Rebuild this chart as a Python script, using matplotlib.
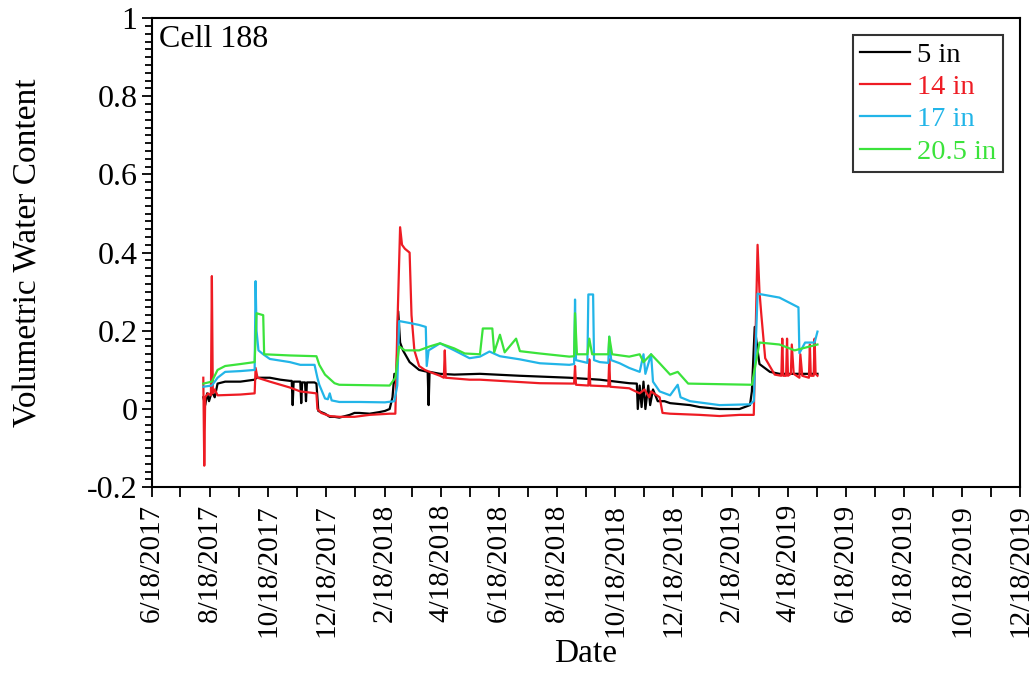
import numpy as np
import pandas as pd
import matplotlib
matplotlib.use('Agg')
import matplotlib.pyplot as plt
import matplotlib.dates as mdates
from matplotlib.ticker import MultipleLocator, FuncFormatter

# Volumetric water content, cell 188
dates_5in = ['2017-08-11', '2017-08-13', '2017-08-15', '2017-08-17', '2017-08-20', '2017-08-23',
             '2017-08-26', '2017-09-03', '2017-09-19', '2017-10-04', '2017-10-06', '2017-10-20',
             '2017-10-31', '2017-11-10', '2017-11-12', '2017-11-13', '2017-11-14', '2017-11-21',
             '2017-11-22', '2017-11-23', '2017-11-26', '2017-11-27', '2017-11-28', '2017-12-06',
             '2017-12-08', '2017-12-10', '2017-12-17', '2017-12-22', '2017-12-27', '2018-01-01',
             '2018-01-12', '2018-01-17', '2018-01-22', '2018-02-02', '2018-02-12', '2018-02-18',
             '2018-02-23', '2018-02-26', '2018-02-28', '2018-03-02', '2018-03-04', '2018-03-06',
             '2018-03-09', '2018-03-16', '2018-03-26', '2018-04-04', '2018-04-05', '2018-04-06',
             '2018-04-17', '2018-05-02', '2018-05-29', '2018-07-10', '2018-07-31', '2018-08-31',
             '2018-10-02', '2018-11-02', '2018-11-10', '2018-11-11', '2018-11-13', '2018-11-15',
             '2018-11-17', '2018-11-19', '2018-11-22', '2018-11-24', '2018-11-27', '2018-12-02',
             '2018-12-09', '2018-12-15', '2019-01-05', '2019-01-15', '2019-02-05', '2019-02-26',
             '2019-03-09', '2019-03-11', '2019-03-14', '2019-03-17', '2019-03-19', '2019-03-30',
             '2019-04-09', '2019-05-19']
vwc_5in = [0.03, 0.01, 0.04, 0.02, 0.045, 0.03,
           0.065, 0.07, 0.07, 0.075, 0.08, 0.08,
           0.075, 0.072, 0.072, 0.01, 0.07, 0.07,
           0.015, 0.068, 0.068, 0.02, 0.068, 0.068,
           0.065, -0.005, -0.012, -0.02, -0.02, -0.022,
           -0.015, -0.01, -0.01, -0.012, -0.008, -0.005,
           0.0, 0.03, 0.09, 0.06, 0.25, 0.17,
           0.15, 0.12, 0.1, 0.095, 0.01, 0.095,
           0.09, 0.088, 0.09, 0.085, 0.083, 0.08,
           0.075, 0.066, 0.065, 0.0, 0.06, 0.005,
           0.07, 0.0, 0.06, 0.01, 0.05, 0.02,
           0.02, 0.015, 0.01, 0.005, 0.0, 0.0,
           0.01, 0.045, 0.21, 0.15, 0.115, 0.095,
           0.09, 0.09]

dates_14in = ['2017-08-11', '2017-08-12', '2017-08-13', '2017-08-16', '2017-08-19', '2017-08-20',
              '2017-08-21', '2017-08-23', '2017-08-26', '2017-09-19', '2017-10-04', '2017-10-05',
              '2017-10-07', '2017-10-20', '2017-11-10', '2017-11-21', '2017-12-08', '2017-12-09',
              '2017-12-11', '2017-12-13', '2017-12-22', '2018-01-01', '2018-01-17', '2018-02-02',
              '2018-02-23', '2018-03-01', '2018-03-03', '2018-03-06', '2018-03-08', '2018-03-11',
              '2018-03-16', '2018-03-18', '2018-03-21', '2018-03-26', '2018-04-01', '2018-04-06',
              '2018-04-17', '2018-04-21', '2018-04-22', '2018-04-23', '2018-05-18', '2018-05-29',
              '2018-07-31', '2018-09-05', '2018-09-06', '2018-09-07', '2018-09-20', '2018-09-21',
              '2018-09-22', '2018-10-11', '2018-10-12', '2018-10-13', '2018-11-02', '2018-11-13',
              '2018-11-18', '2018-11-23', '2018-11-25', '2018-12-04', '2018-12-07', '2018-12-15',
              '2019-01-15', '2019-02-05', '2019-02-26', '2019-03-13', '2019-03-15', '2019-03-17',
              '2019-03-19', '2019-03-21', '2019-03-25', '2019-04-04', '2019-04-11', '2019-04-12',
              '2019-04-13', '2019-04-16', '2019-04-17', '2019-04-18', '2019-04-21', '2019-04-22',
              '2019-04-24', '2019-04-30', '2019-05-01', '2019-05-03', '2019-05-10', '2019-05-11',
              '2019-05-12', '2019-05-15', '2019-05-16', '2019-05-17', '2019-05-19']
vwc_14in = [0.08, -0.145, 0.03, 0.04, 0.035, 0.34,
            0.04, 0.05, 0.035, 0.037, 0.04, 0.105,
            0.08, 0.07, 0.055, 0.045, 0.04, 0.0,
            -0.005, -0.01, -0.018, -0.02, -0.02, -0.015,
            -0.012, -0.012, 0.2, 0.465, 0.42, 0.41,
            0.4, 0.24, 0.15, 0.11, 0.1, 0.095,
            0.085, 0.08, 0.15, 0.08, 0.075, 0.075,
            0.066, 0.065, 0.11, 0.062, 0.06, 0.127,
            0.06, 0.058, 0.127, 0.057, 0.053, 0.04,
            0.05, 0.03, 0.045, 0.03, -0.01, -0.012,
            -0.015, -0.018, -0.015, -0.015, 0.2, 0.42,
            0.3, 0.24, 0.13, 0.088, 0.085, 0.18,
            0.085, 0.085, 0.18, 0.085, 0.09, 0.165,
            0.09, 0.08, 0.14, 0.085, 0.08, 0.165,
            0.085, 0.085, 0.18, 0.09, 0.085]

dates_17in = ['2017-08-11', '2017-08-20', '2017-08-26', '2017-09-03', '2017-09-19', '2017-10-04',
              '2017-10-05', '2017-10-06', '2017-10-08', '2017-10-13', '2017-10-20', '2017-11-10',
              '2017-11-21', '2017-12-06', '2017-12-09', '2017-12-11', '2017-12-17', '2017-12-20',
              '2017-12-22', '2017-12-24', '2018-01-01', '2018-01-22', '2018-02-18', '2018-02-28',
              '2018-03-03', '2018-03-05', '2018-03-16', '2018-03-26', '2018-04-02', '2018-04-03',
              '2018-04-05', '2018-04-17', '2018-05-02', '2018-05-18', '2018-05-29', '2018-06-08',
              '2018-06-19', '2018-07-10', '2018-07-31', '2018-08-31', '2018-09-05', '2018-09-06',
              '2018-09-07', '2018-09-19', '2018-09-20', '2018-09-25', '2018-09-26', '2018-10-02',
              '2018-10-11', '2018-10-12', '2018-10-14', '2018-10-23', '2018-11-02', '2018-11-13',
              '2018-11-17', '2018-11-19', '2018-11-25', '2018-11-27', '2018-12-04', '2018-12-15',
              '2018-12-23', '2018-12-26', '2019-01-05', '2019-02-05', '2019-03-09', '2019-03-13',
              '2019-03-17', '2019-04-09', '2019-04-25', '2019-04-29', '2019-04-30', '2019-05-06',
              '2019-05-16', '2019-05-19']
vwc_17in = [0.057, 0.06, 0.08, 0.095, 0.097, 0.1,
            0.327, 0.2, 0.15, 0.14, 0.128, 0.12,
            0.113, 0.113, 0.08, 0.062, 0.027, 0.025,
            0.04, 0.022, 0.018, 0.018, 0.017, 0.02,
            0.06, 0.225, 0.22, 0.215, 0.21, 0.11,
            0.15, 0.168, 0.15, 0.13, 0.134, 0.147,
            0.135, 0.127, 0.117, 0.113, 0.115, 0.28,
            0.125, 0.118, 0.293, 0.293, 0.125, 0.12,
            0.118, 0.185, 0.125, 0.117, 0.105, 0.095,
            0.14, 0.09, 0.14, 0.07, 0.045, 0.035,
            0.062, 0.03, 0.02, 0.01, 0.012, 0.02,
            0.295, 0.285, 0.265, 0.26, 0.143, 0.17,
            0.17, 0.198]

dates_20in = ['2017-08-11', '2017-08-20', '2017-08-26', '2017-09-03', '2017-09-19', '2017-10-04',
              '2017-10-06', '2017-10-13', '2017-10-14', '2017-11-10', '2017-12-08', '2017-12-11',
              '2017-12-17', '2017-12-27', '2018-01-01', '2018-02-23', '2018-03-01', '2018-03-05',
              '2018-03-11', '2018-03-26', '2018-04-06', '2018-04-17', '2018-05-02', '2018-05-13',
              '2018-05-29', '2018-06-01', '2018-06-11', '2018-06-13', '2018-06-19', '2018-06-24',
              '2018-07-06', '2018-07-10', '2018-07-31', '2018-08-31', '2018-09-05', '2018-09-06',
              '2018-09-08', '2018-09-19', '2018-09-21', '2018-09-24', '2018-10-11', '2018-10-12',
              '2018-10-15', '2018-11-02', '2018-11-13', '2018-11-17', '2018-11-25', '2018-12-04',
              '2018-12-15', '2018-12-23', '2019-01-03', '2019-03-11', '2019-03-19', '2019-04-09',
              '2019-04-25', '2019-05-19']
vwc_20in = [0.065, 0.07, 0.1, 0.11, 0.115, 0.12,
            0.245, 0.24, 0.14, 0.137, 0.135, 0.113,
            0.088, 0.066, 0.062, 0.06, 0.08, 0.16,
            0.15, 0.15, 0.16, 0.168, 0.155, 0.142,
            0.14, 0.206, 0.206, 0.145, 0.19, 0.145,
            0.18, 0.148, 0.142, 0.134, 0.135, 0.245,
            0.14, 0.14, 0.18, 0.14, 0.14, 0.185,
            0.14, 0.134, 0.14, 0.12, 0.14, 0.117,
            0.088, 0.095, 0.065, 0.062, 0.17, 0.165,
            0.15, 0.165]

series_labels = ['5 in', '14 in', '17 in', '20.5 in']
series_colors = ['black', '#ee1c24', '#22b5e8', '#3be33b']
series_dates = [dates_5in, dates_14in, dates_17in, dates_20in]
series_vwc = [vwc_5in, vwc_14in, vwc_17in, vwc_20in]

plt.rcParams['font.family'] = 'Liberation Serif'

fig = plt.figure(figsize=(10.31, 6.95), dpi=100)
ax = fig.add_axes([0.1474, 0.299, 0.8419, 0.675])

for d, v, lab, col in zip(series_dates, series_vwc, series_labels, series_colors):
    ax.plot(pd.to_datetime(d), v, color=col, lw=1.6, label=lab)

ax.set_xlim(pd.Timestamp('2017-06-18'), pd.Timestamp('2019-12-18'))
ax.set_ylim(-0.2, 1.0)

ax.xaxis.set_major_locator(mdates.MonthLocator(bymonth=[2, 4, 6, 8, 10, 12], bymonthday=18))
ax.xaxis.set_minor_locator(mdates.MonthLocator(bymonthday=18))
ax.xaxis.set_major_formatter(FuncFormatter(
    lambda x, pos: '{0.month}/{0.day}/{0.year}'.format(mdates.num2date(x))))

ax.yaxis.set_major_locator(MultipleLocator(0.2))
ax.yaxis.set_minor_locator(MultipleLocator(0.02))
ax.yaxis.set_major_formatter(FuncFormatter(lambda y, pos: '%g' % round(y, 2)))

ax.tick_params(axis='both', which='both', direction='out', width=1.3)
ax.tick_params(axis='y', which='major', length=7, labelsize=23)
ax.tick_params(axis='y', which='minor', length=5)
ax.tick_params(axis='x', which='both', length=7)
ax.tick_params(axis='x', which='major', labelrotation=90, labelsize=21, pad=5)
for s in ax.spines.values():
    s.set_linewidth(1.5)

ax.set_xlabel('Date', fontsize=24)
ax.set_ylabel('Volumetric Water Content', fontsize=24)
ax.xaxis.set_label_coords(0.5, -0.322)
ax.yaxis.set_label_coords(-0.125, 0.5)

ax.text(0.008, 0.985, 'Cell 188', transform=ax.transAxes, fontsize=23, va='top', ha='left')

leg = ax.legend(loc='upper right', bbox_to_anchor=(0.981, 0.964), borderaxespad=0,
                fontsize=20.5, frameon=True, fancybox=False, edgecolor='black',
                handlelength=1.75, handletextpad=0.25, labelspacing=0.22, borderpad=0.25)
leg.get_frame().set_linewidth(1.5)
for txt, col in zip(leg.get_texts(), series_colors):
    txt.set_color(col)

fig.savefig('out.png', dpi=100)
